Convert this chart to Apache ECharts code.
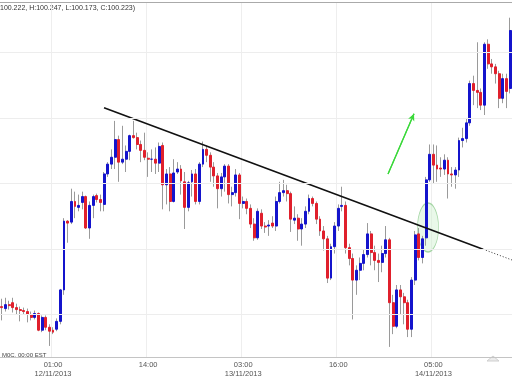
<!DOCTYPE html>
<html><head><meta charset="utf-8">
<script src="https://cdn.jsdelivr.net/npm/echarts@6/dist/echarts.min.js"></script>
<style>html,body{margin:0;padding:0;background:#fff}#c{width:512px;height:379px}</style>
</head><body><div id="c"></div>
<script>
// 30-minute candles, prices
const openP = [100.006,100.0045,100.0075,100.009,100.00525,100.00375,100.003,100.00225,100.0,99.99775,
100.00075,99.988,99.99775,99.99025,99.988,99.98875,99.99475,100.01875,100.07125,100.0705,
100.08625,100.08175,100.0855,100.09,100.066,100.08325,100.09075,100.08775,100.084,100.10725,
100.11475,100.12,100.1335,100.11625,100.1185,100.1245,100.1365,100.135,100.12975,100.12525,
100.11925,100.1185,100.1185,100.1155,100.129,100.099,100.10725,100.08625,100.10875,100.111,
100.10125,100.08175,100.10125,100.10725,100.08625,100.11475,100.126,100.1215,100.1125,100.10575,
100.096,100.105,100.11325,100.0915,100.093,100.1065,100.08475,100.08625,100.081,100.069,
100.0585,100.07725,100.0675,100.0675,100.06975,100.0675,100.08625,100.093,100.0945,100.09225,
100.072,100.0735,100.06525,100.069,100.07875,100.0885,100.08475,100.07275,100.06375,100.05775,
100.02775,100.05175,100.0675,100.0825,100.08325,100.051,100.04275,100.02625,100.03375,100.039,
100.04575,100.0615,100.04725,100.04125,100.03975,100.0465,100.057,100.009,99.991,100.01875,
100.0135,100.009,99.98875,100.02625,100.0615,100.0435,100.0585,100.10275,100.12225,100.114,
100.11175,100.111,100.11775,100.10725,100.1065,100.11025,100.13275,100.13425,100.14625,100.17625,
100.171,100.1695,100.15975,100.20625,100.19125,100.189,100.18375,100.165,100.18,100.1725];
const closeP = [100.00525,100.0075,100.00675,100.00525,100.00375,100.003,100.00225,100.0,99.99775,100.00075,
99.988,99.99775,99.99025,99.98725,99.9865,99.99475,100.01875,100.07125,100.06975,100.08625,
100.0825,100.08325,100.09,100.066,100.08325,100.09,100.08775,100.0855,100.10725,100.11475,
100.12,100.1335,100.11625,100.1185,100.1245,100.1365,100.135,100.12975,100.12525,100.12,
100.1185,100.1185,100.1155,100.12825,100.099,100.10725,100.08625,100.108,100.111,100.102,
100.08175,100.1005,100.10725,100.08625,100.11475,100.126,100.1215,100.1125,100.10575,100.096,
100.105,100.11325,100.0915,100.093,100.1065,100.08475,100.08625,100.081,100.069,100.0585,
100.07875,100.0675,100.06675,100.06825,100.0675,100.08625,100.093,100.0945,100.09225,100.07275,
100.0735,100.06525,100.069,100.07875,100.0885,100.08475,100.07275,100.06375,100.05775,100.02775,
100.05175,100.0675,100.081,100.08325,100.051,100.04275,100.02625,100.03375,100.039,100.04575,
100.0615,100.04725,100.04125,100.03975,100.0465,100.057,100.009,99.991,100.01875,100.0135,
100.009,99.98875,100.02625,100.06075,100.0435,100.05775,100.10275,100.12225,100.114,100.111,
100.111,100.11775,100.10725,100.1065,100.11025,100.13275,100.13425,100.14625,100.17625,100.171,
100.1695,100.15975,100.20625,100.19125,100.189,100.18375,100.165,100.18,100.17025,100.21675];
const lowP = [99.9955,100.00225,100.00375,100.0015,100.0,99.99475,100.0,99.994,99.9955,99.99625,
99.98725,99.9865,99.988,99.976,99.985,99.98725,99.9925,100.015,100.05475,100.069,
100.0735,100.07875,100.08025,100.06525,100.05775,100.0735,100.0855,100.07875,100.07875,100.105,
100.111,100.111,100.10125,100.11475,100.10875,100.11775,100.13425,100.126,100.11625,100.11775,
100.105,100.10875,100.10725,100.10875,100.08025,100.084,100.07875,100.0855,100.10725,100.0915,
100.06525,100.07875,100.09,100.084,100.084,100.1125,100.11625,100.10125,100.0975,100.081,
100.09,100.09375,100.08475,100.0825,100.09,100.07275,100.081,100.0765,100.066,100.05625,
100.057,100.06525,100.06225,100.06,100.066,100.06375,100.08475,100.09,100.08625,100.063,
100.069,100.05625,100.0525,100.066,100.0765,100.0825,100.069,100.06,100.04875,100.024,
100.02625,100.0465,100.06375,100.07875,100.0465,100.0375,99.99625,100.015,100.02625,100.03375,
100.0435,100.0375,100.03375,100.02475,100.03225,100.0435,99.97525,99.985,99.9895,100.0,
99.9925,99.98275,99.98275,100.0225,100.04125,100.039,100.0525,100.10125,100.09975,100.10125,
100.105,100.1065,100.0885,100.0975,100.096,100.105,100.1275,100.13125,100.144,100.15975,
100.1575,100.156,100.15225,100.1875,100.18375,100.17625,100.1575,100.16125,100.1575,100.16875];
const highP = [100.012,100.01275,100.0105,100.01275,100.00825,100.006,100.00525,100.0045,100.00225,100.003,
100.0015,99.99925,99.99925,99.9925,99.99025,99.997,100.0195,100.0735,100.072,100.096,
100.09375,100.0915,100.09375,100.09075,100.08625,100.0915,100.09225,100.0915,100.10875,100.11625,
100.126,100.14775,100.1365,100.144,100.129,100.13725,100.14775,100.13875,100.13275,100.13875,
100.12375,100.126,100.1275,100.13125,100.13125,100.111,100.1125,100.1185,100.11625,100.114,
100.10875,100.102,100.11025,100.111,100.11625,100.132,100.129,100.12375,100.11625,100.108,
100.108,100.11475,100.11475,100.0975,100.111,100.108,100.09,100.0885,100.084,100.0735,
100.081,100.08025,100.0705,100.072,100.075,100.09,100.10125,100.10275,100.099,100.09375,
100.0825,100.0765,100.0735,100.0825,100.0915,100.09,100.08625,100.075,100.0675,100.06,
100.054,100.0705,100.084,100.0975,100.08625,100.054,100.0465,100.0375,100.0435,100.0495,
100.06975,100.06375,100.0525,100.0465,100.0525,100.0675,100.0585,100.015,100.0225,100.0225,
100.0165,100.01125,100.0285,100.06375,100.066,100.06,100.105,100.12975,100.12975,100.129,
100.12,100.12225,100.12,100.1125,100.1125,100.135,100.1425,100.15,100.1785,100.18225,
100.20775,100.1725,100.20775,100.21,100.195,100.19125,100.186,100.18375,100.18375,100.2265];

const startTime = Date.UTC(2013, 10, 11, 18, 0);   // first candle: 11/11/2013 18:00
const stepMinutes = 30;
const tickCategories = ['12/11/2013 01:00','12/11/2013 14:00','13/11/2013 03:00','13/11/2013 16:00','14/11/2013 05:00'];
const tickLabels = ['01:00\n12/11/2013','14:00','03:00\n13/11/2013','16:00','05:00\n14/11/2013'];
const gridLevels = [100.0, 100.05, 100.1, 100.15, 100.2];
const yRange = [99.96755, 100.23849];
// annotations in data units: [candle index, price]
const trendSolid = [[27.94, 100.15774], [131.58, 100.04981]];
const trendDotted = [[131.58, 100.04981], [139.5, 100.04158]];
const arrowPts = [[105.6, 100.10717], [112.7, 100.15321]];
const ellipseCenter = [116.54, 100.06642];
const headerText = '100.222, H:100.247, L:100.173, C:100.223)';
const tzText = 'M0C, 00:00 EST';

const pad = n => String(n).padStart(2, '0');
const categories = openP.map((_, i) => {
  const d = new Date(startTime + i * stepMinutes * 60000);
  return pad(d.getUTCDate()) + '/' + pad(d.getUTCMonth() + 1) + '/' + d.getUTCFullYear() + ' ' +
         pad(d.getUTCHours()) + ':' + pad(d.getUTCMinutes());
});
const labelMap = {};
tickCategories.forEach((c, i) => { labelMap[c] = tickLabels[i]; });
const showTick = (idx, val) => labelMap[val] !== undefined;

const wickData = openP.map((o, i) => [o, closeP[i], lowP[i], highP[i]]);
const bodyData = openP.map((o, i) => [o, closeP[i], Math.min(o, closeP[i]), Math.max(o, closeP[i])]);

const FONT = 'Liberation Sans, Arial, sans-serif';
const chart = echarts.init(document.getElementById('c'), null, { renderer: 'canvas' });
chart.setOption({
  animation: false,
  backgroundColor: '#fff',
  grid: { left: 0, right: 0, top: 2, bottom: 18 },
  xAxis: [{
    type: 'category', data: categories, boundaryGap: true,
    axisLine: { lineStyle: { color: '#c4c4c4', width: 1 } },
    axisTick: { show: false },
    axisLabel: { interval: showTick, formatter: v => labelMap[v] || '', fontSize: 7.5, color: '#555',
                 lineHeight: 9.5, margin: 3, fontFamily: FONT },
    splitLine: { show: true, interval: showTick, lineStyle: { color: '#eeeeee', width: 1 } }
  }, {
    type: 'value', min: -0.5, max: categories.length - 0.5, position: 'top',
    axisLine: { show: true, lineStyle: { color: '#aaaaaa', width: 1 } },
    axisTick: { show: false }, axisLabel: { show: false }, splitLine: { show: false }
  }],
  yAxis: { type: 'value', min: yRange[0], max: yRange[1], scale: true,
           axisLine: { show: false }, axisTick: { show: false }, axisLabel: { show: false }, splitLine: { show: false } },
  series: [{
    type: 'scatter', xAxisIndex: 1, data: [ellipseCenter], symbol: 'circle', symbolSize: [21, 49], silent: true, z: 1,
    itemStyle: { color: 'rgba(205,238,205,0.55)', borderColor: '#90cc90', borderWidth: 1 }
  }, {
    type: 'candlestick', data: wickData, barWidth: 0.1, z: 2, silent: true,
    itemStyle: { color: '#9a9a9a', color0: '#9a9a9a', borderColor: '#9a9a9a', borderColor0: '#9a9a9a', borderWidth: 1 },
    markLine: { silent: true, symbol: ['none', 'none'], label: { show: false },
      lineStyle: { color: '#ededed', width: 1, type: 'solid' },
      data: gridLevels.map(v => ({ yAxis: v })) }
  }, {
    type: 'candlestick', data: bodyData, barWidth: 2.4, z: 3, silent: true,
    itemStyle: { color: '#1414cc', color0: '#e0202c', borderColor: '#1414cc', borderColor0: '#e0202c', borderWidth: 1 }
  }, {
    type: 'line', xAxisIndex: 1, data: trendSolid, showSymbol: false, symbol: 'none', z: 4, silent: true,
    lineStyle: { color: '#111', width: 1.6 }
  }, {
    type: 'line', xAxisIndex: 1, data: trendDotted, showSymbol: false, symbol: 'none', z: 4, silent: true,
    lineStyle: { color: '#333', width: 1, type: [1, 2] }
  }, {
    type: 'line', xAxisIndex: 1, data: arrowPts, showSymbol: false, symbol: 'none', z: 4, silent: true,
    lineStyle: { color: '#3ad83a', width: 1.2 },
    markLine: { silent: true, symbol: ['none', 'arrow'], symbolSize: [5, 7], label: { show: false },
      lineStyle: { color: '#3ad83a', width: 1.2, type: 'solid' },
      data: [[{ coord: arrowPts[0] }, { coord: arrowPts[1] }]] }
  }],
  graphic: [
    { type: 'text', left: 0, top: 5, silent: true,
      style: { text: headerText, fontSize: 7, fill: '#333', fontFamily: FONT } },
    { type: 'text', left: 2, top: 352, silent: true,
      style: { text: tzText, fontSize: 6, fill: '#444', fontFamily: FONT } },
    { type: 'polygon', silent: true, shape: { points: [[487, 361], [493, 356], [499, 361]] },
      style: { fill: '#ececec', stroke: '#cfcfcf', lineWidth: 1 } }
  ]
});
</script></body></html>
